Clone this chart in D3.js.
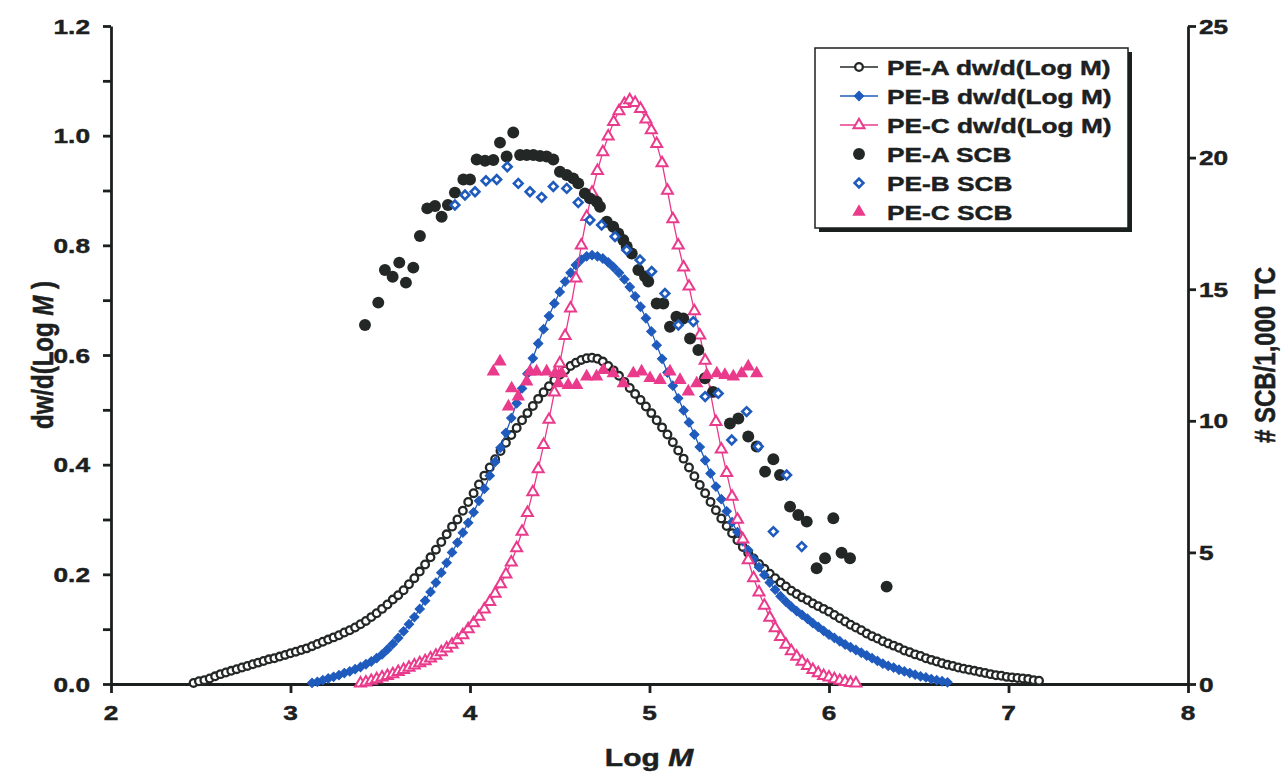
<!DOCTYPE html>
<html><head><meta charset="utf-8">
<script src="https://cdn.jsdelivr.net/npm/d3@7/dist/d3.min.js"></script>
<style>
body{margin:0;background:#fff}
text{font-family:"Liberation Sans",Arial,sans-serif;font-weight:bold;fill:#1c201f;stroke:#1c201f;stroke-width:0.45px}
</style>
</head><body><svg id="c" width="1285" height="776"></svg>
<script>
// ---------------- data ----------------
const peA_dw = [[2.46,0.002],[2.49,0.005],[2.52,0.007],[2.55,0.010],[2.58,0.014],[2.61,0.018],[2.64,0.021],[2.67,0.024],[2.70,0.027],[2.73,0.030],[2.76,0.033],[2.79,0.036],[2.82,0.039],[2.85,0.042],[2.88,0.045],[2.91,0.047],[2.94,0.050],[2.97,0.053],[3.00,0.056],[3.03,0.059],[3.06,0.062],[3.09,0.065],[3.12,0.069],[3.15,0.073],[3.18,0.077],[3.21,0.081],[3.24,0.085],[3.27,0.089],[3.30,0.094],[3.33,0.098],[3.36,0.103],[3.39,0.109],[3.42,0.115],[3.45,0.122],[3.48,0.129],[3.51,0.137],[3.54,0.145],[3.57,0.154],[3.60,0.162],[3.63,0.171],[3.66,0.182],[3.69,0.193],[3.72,0.205],[3.75,0.218],[3.78,0.231],[3.81,0.245],[3.84,0.259],[3.87,0.273],[3.90,0.287],[3.93,0.300],[3.96,0.316],[3.99,0.332],[4.02,0.348],[4.05,0.364],[4.08,0.380],[4.11,0.395],[4.14,0.410],[4.17,0.425],[4.20,0.440],[4.23,0.454],[4.26,0.467],[4.29,0.481],[4.32,0.494],[4.35,0.507],[4.38,0.520],[4.41,0.532],[4.44,0.543],[4.47,0.554],[4.50,0.564],[4.53,0.572],[4.56,0.580],[4.59,0.586],[4.62,0.591],[4.65,0.594],[4.68,0.595],[4.71,0.593],[4.74,0.588],[4.77,0.580],[4.80,0.572],[4.83,0.562],[4.86,0.551],[4.89,0.540],[4.92,0.529],[4.95,0.518],[4.98,0.506],[5.01,0.494],[5.04,0.481],[5.07,0.468],[5.10,0.455],[5.13,0.441],[5.16,0.426],[5.19,0.411],[5.22,0.395],[5.25,0.379],[5.28,0.363],[5.31,0.348],[5.34,0.332],[5.37,0.317],[5.40,0.302],[5.43,0.288],[5.46,0.275],[5.49,0.262],[5.52,0.250],[5.55,0.239],[5.58,0.229],[5.61,0.219],[5.64,0.210],[5.67,0.201],[5.70,0.193],[5.73,0.185],[5.76,0.178],[5.79,0.170],[5.82,0.164],[5.85,0.158],[5.88,0.153],[5.91,0.147],[5.94,0.142],[5.97,0.137],[6.00,0.132],[6.03,0.126],[6.06,0.120],[6.09,0.114],[6.12,0.108],[6.15,0.103],[6.18,0.098],[6.21,0.092],[6.24,0.087],[6.27,0.083],[6.30,0.078],[6.33,0.074],[6.36,0.070],[6.39,0.066],[6.42,0.061],[6.45,0.058],[6.48,0.054],[6.51,0.051],[6.54,0.047],[6.57,0.044],[6.60,0.041],[6.63,0.038],[6.66,0.035],[6.69,0.033],[6.72,0.030],[6.75,0.028],[6.78,0.026],[6.81,0.024],[6.84,0.022],[6.87,0.020],[6.90,0.018],[6.93,0.016],[6.96,0.015],[6.99,0.013],[7.02,0.012],[7.05,0.011],[7.08,0.010],[7.11,0.009],[7.14,0.007],[7.17,0.006]];

const peB_dw = [[3.12,0.002],[3.15,0.004],[3.18,0.007],[3.21,0.010],[3.24,0.013],[3.27,0.016],[3.30,0.020],[3.33,0.023],[3.36,0.027],[3.39,0.031],[3.42,0.036],[3.45,0.041],[3.48,0.047],[3.51,0.054],[3.54,0.063],[3.57,0.073],[3.60,0.084],[3.63,0.096],[3.66,0.109],[3.69,0.122],[3.72,0.137],[3.75,0.152],[3.78,0.168],[3.81,0.185],[3.84,0.203],[3.87,0.221],[3.90,0.240],[3.93,0.258],[3.96,0.276],[3.99,0.294],[4.02,0.313],[4.05,0.334],[4.08,0.356],[4.11,0.380],[4.14,0.405],[4.17,0.431],[4.20,0.458],[4.23,0.485],[4.26,0.512],[4.29,0.539],[4.32,0.566],[4.35,0.594],[4.38,0.621],[4.41,0.647],[4.44,0.671],[4.47,0.694],[4.50,0.715],[4.53,0.734],[4.56,0.750],[4.59,0.764],[4.62,0.774],[4.65,0.780],[4.68,0.782],[4.71,0.780],[4.74,0.776],[4.77,0.769],[4.80,0.760],[4.83,0.750],[4.86,0.738],[4.89,0.724],[4.92,0.707],[4.95,0.688],[4.98,0.667],[5.01,0.643],[5.04,0.618],[5.07,0.593],[5.10,0.568],[5.13,0.544],[5.16,0.521],[5.19,0.499],[5.22,0.477],[5.25,0.455],[5.28,0.432],[5.31,0.408],[5.34,0.384],[5.37,0.360],[5.40,0.337],[5.43,0.315],[5.46,0.295],[5.49,0.277],[5.52,0.260],[5.55,0.244],[5.58,0.228],[5.61,0.213],[5.64,0.199],[5.67,0.185],[5.70,0.172],[5.73,0.160],[5.76,0.150],[5.79,0.141],[5.82,0.133],[5.85,0.126],[5.88,0.119],[5.91,0.111],[5.94,0.104],[5.97,0.097],[6.00,0.090],[6.03,0.084],[6.06,0.078],[6.09,0.072],[6.12,0.067],[6.15,0.062],[6.18,0.057],[6.21,0.052],[6.24,0.047],[6.27,0.042],[6.30,0.037],[6.33,0.033],[6.36,0.030],[6.39,0.026],[6.42,0.023],[6.45,0.020],[6.48,0.017],[6.51,0.014],[6.54,0.012],[6.57,0.009],[6.60,0.007],[6.63,0.005],[6.66,0.003]];

const peC_dw = [[3.39,0.001],[3.42,0.003],[3.45,0.006],[3.48,0.009],[3.51,0.012],[3.54,0.015],[3.57,0.018],[3.60,0.022],[3.63,0.026],[3.66,0.030],[3.69,0.034],[3.72,0.038],[3.75,0.042],[3.78,0.047],[3.81,0.052],[3.84,0.058],[3.87,0.065],[3.90,0.072],[3.93,0.080],[3.96,0.089],[3.99,0.100],[4.02,0.111],[4.05,0.123],[4.08,0.136],[4.11,0.150],[4.14,0.165],[4.17,0.182],[4.20,0.200],[4.23,0.222],[4.26,0.248],[4.29,0.278],[4.32,0.312],[4.35,0.350],[4.38,0.392],[4.41,0.436],[4.44,0.482],[4.47,0.532],[4.50,0.585],[4.53,0.635],[4.56,0.685],[4.59,0.740],[4.62,0.800],[4.65,0.852],[4.68,0.896],[4.71,0.936],[4.74,0.970],[4.77,0.999],[4.80,1.025],[4.83,1.045],[4.86,1.058],[4.89,1.065],[4.92,1.060],[4.95,1.049],[4.98,1.030],[5.01,1.010],[5.04,0.985],[5.07,0.950],[5.10,0.900],[5.13,0.848],[5.16,0.800],[5.19,0.760],[5.22,0.725],[5.25,0.680],[5.28,0.636],[5.31,0.590],[5.34,0.530],[5.37,0.478],[5.40,0.428],[5.43,0.385],[5.46,0.342],[5.49,0.300],[5.52,0.264],[5.55,0.226],[5.58,0.193],[5.61,0.167],[5.64,0.143],[5.67,0.121],[5.70,0.102],[5.73,0.086],[5.76,0.072],[5.79,0.060],[5.82,0.050],[5.85,0.041],[5.88,0.033],[5.91,0.026],[5.94,0.020],[5.97,0.015],[6.00,0.012],[6.03,0.009],[6.06,0.006],[6.09,0.004],[6.12,0.002],[6.15,0.001]];

const peA_scb = [[3.415,13.64],[3.489,14.49],[3.526,15.73],[3.569,15.47],[3.606,16.01],[3.643,15.25],[3.684,15.82],[3.721,17.02],[3.762,18.07],[3.805,18.16],[3.842,17.75],[3.877,18.20],[3.916,18.67],[3.963,19.17],[4.000,19.17],[4.037,19.93],[4.084,19.88],[4.130,19.91],[4.167,20.57],[4.204,20.04],[4.241,20.95],[4.279,20.10],[4.316,20.10],[4.353,20.10],[4.390,20.06],[4.427,20.04],[4.464,19.93],[4.501,19.46],[4.539,19.34],[4.575,19.21],[4.603,19.02],[4.640,18.64],[4.668,18.45],[4.706,18.32],[4.724,18.13],[4.762,17.56],[4.798,17.37],[4.826,17.12],[4.854,16.87],[4.873,16.62],[4.901,16.36],[4.938,15.73],[4.975,15.48],[4.993,15.29],[5.040,14.46],[5.077,14.46],[5.114,13.57],[5.150,13.95],[5.188,13.89],[5.226,13.13],[5.272,12.69],[5.309,11.62],[5.354,11.10],[5.448,9.90],[5.495,10.09],[5.550,9.40],[5.597,9.02],[5.644,8.07],[5.690,8.54],[5.727,7.94],[5.783,6.74],[5.829,6.42],[5.876,6.17],[6.024,6.30],[5.931,4.40],[5.978,4.78],[6.070,4.99],[6.117,4.78],[6.321,3.70]];

const peB_scb = [[3.916,18.20],[3.972,18.58],[4.028,18.70],[4.089,19.12],[4.149,19.17],[4.208,19.65],[4.269,19.02],[4.334,18.70],[4.399,18.49],[4.464,18.90],[4.539,18.83],[4.603,18.29],[4.668,17.63],[4.733,17.44],[4.808,17.00],[4.873,16.49],[4.947,16.11],[5.012,15.67],[5.086,14.84],[5.161,13.64],[5.244,13.77],[5.310,10.92],[5.383,11.04],[5.458,9.27],[5.541,10.35],[5.606,9.02],[5.764,7.94],[5.690,5.79],[5.848,5.22]];

const peC_scb = [[4.130,11.87],[4.167,12.25],[4.214,10.54],[4.232,11.23],[4.269,10.92],[4.316,11.49],[4.334,11.87],[4.371,11.87],[4.427,11.87],[4.474,11.80],[4.492,11.42],[4.511,11.80],[4.547,11.36],[4.594,11.36],[4.650,11.68],[4.705,11.68],[4.743,11.93],[4.798,11.80],[4.854,11.42],[4.910,11.80],[4.956,11.87],[5.003,11.62],[5.059,11.55],[5.114,11.87],[5.170,11.55],[5.216,11.11],[5.263,11.42],[5.319,11.74],[5.375,11.80],[5.420,11.74],[5.467,11.68],[5.513,11.80],[5.550,12.06],[5.597,11.80]];

const xTicks = [2,3,4,5,6,7,8];
const yTicks = [0,0.2,0.4,0.6,0.8,1.0,1.2];
const yMinorTicks = [0.1,0.3,0.5,0.7,0.9,1.1];
const y2Ticks = [0,5,10,15,20,25];
const legendLabels = ["PE-A dw/d(Log M)","PE-B dw/d(Log M)","PE-C dw/d(Log M)","PE-A SCB","PE-B SCB","PE-C SCB"];

// ---------------- drawing ----------------
const BLACK = "#232826", BLUE = "#1f5bbd", PINK = "#ea3a8c", AXIS = "#1b201e";
const SX = 1.25; // horizontal stretch of the scanned lettering

const svg = d3.select("#c");
const x = d3.scaleLinear().domain([2,8]).range([111,1188]);
const y = d3.scaleLinear().domain([0,1.2]).range([684,26]);
const y2 = d3.scaleLinear().domain([0,25]).range([684,26]);

function stext(g, tx, ty, str, size, anchor){
  return g.append("text")
    .attr("transform", `translate(${tx},${ty}) scale(${SX},1)`)
    .attr("text-anchor", anchor || "start")
    .style("font-size", size + "px")
    .text(str);
}

// axes (lines & ticks)
function styleAxis(g){
  g.selectAll("path,line").attr("stroke", AXIS).attr("stroke-width", 2.8);
  g.selectAll("text").remove();
}
svg.append("g").attr("transform","translate(111,0)")
  .call(d3.axisLeft(y).tickValues(yTicks.concat(yMinorTicks)).tickSize(8).tickSizeOuter(0))
  .call(styleAxis);
svg.append("g").attr("transform","translate(1188,0)")
  .call(d3.axisRight(y2).tickValues(y2Ticks).tickSize(8).tickSizeOuter(0))
  .call(styleAxis);
svg.append("g").attr("transform","translate(0,684)")
  .call(d3.axisBottom(x).tickValues(xTicks).tickSize(9).tickSizeOuter(0))
  .call(styleAxis);

// tick labels
const lab = svg.append("g");
yTicks.forEach(v => stext(lab, 90, y(v) + 7.5, v.toFixed(1), 21, "end"));
y2Ticks.forEach(v => stext(lab, 1199, y2(v) + 7.5, String(v), 21, "start"));
xTicks.forEach(v => stext(lab, x(v), 719.5, String(v), 21, "middle"));

// axis titles
const xt = svg.append("text")
  .attr("transform", `translate(649,766) scale(${SX},1)`)
  .attr("text-anchor","middle").style("font-size","24px");
xt.append("tspan").text("Log ");
xt.append("tspan").style("font-style","italic").text("M");

const ylt = svg.append("text")
  .attr("transform", `translate(53,355) rotate(-90) scale(1,${SX})`)
  .attr("text-anchor","middle").style("font-size","24px");
ylt.append("tspan").text("dw/d(Log ");
ylt.append("tspan").style("font-style","italic").text("M");
ylt.append("tspan").text(" )");

svg.append("text")
  .attr("transform", `translate(1275,355) rotate(-90) scale(1,${SX})`)
  .attr("text-anchor","middle").style("font-size","24px")
  .text("# SCB/1,000 TC");

// symbols
const circ = (a) => d3.symbol().type(d3.symbolCircle).size(a)();
const tri = (a) => d3.symbol().type(d3.symbolTriangle).size(a)();
const sq = (a) => d3.symbol().type(d3.symbolSquare).size(a)();

const plot = svg.append("g");
const line = (ys) => d3.line().x(d => x(d[0])).y(d => ys(d[1]));

// PE-A dw
plot.append("path").datum(peA_dw).attr("d", line(y)).attr("fill","none").attr("stroke",BLACK).attr("stroke-width",1.3);
plot.append("g").selectAll("path").data(peA_dw).join("path")
  .attr("d", circ(46)).attr("transform", d => `translate(${x(d[0])},${y(d[1])})`)
  .attr("fill","#fff").attr("stroke",BLACK).attr("stroke-width",2.3);

// PE-B dw
plot.append("path").datum(peB_dw).attr("d", line(y)).attr("fill","none").attr("stroke",BLUE).attr("stroke-width",1.3);
plot.append("g").selectAll("path").data(peB_dw).join("path")
  .attr("d", sq(44)).attr("transform", d => `translate(${x(d[0])},${y(d[1])}) rotate(45)`)
  .attr("fill",BLUE).attr("stroke",BLUE).attr("stroke-width",1);

// PE-C dw
plot.append("path").datum(peC_dw).attr("d", line(y)).attr("fill","none").attr("stroke",PINK).attr("stroke-width",1.3);
plot.append("g").selectAll("path").data(peC_dw).join("path")
  .attr("d", tri(52)).attr("transform", d => `translate(${x(d[0])},${y(d[1])})`)
  .attr("fill","#fff").attr("stroke",PINK).attr("stroke-width",2);

// PE-A SCB
plot.append("g").selectAll("path").data(peA_scb).join("path")
  .attr("d", circ(112)).attr("transform", d => `translate(${x(d[0])},${y2(d[1])})`)
  .attr("fill",BLACK);

// PE-B SCB
plot.append("g").selectAll("path").data(peB_scb).join("path")
  .attr("d", sq(38)).attr("transform", d => `translate(${x(d[0])},${y2(d[1])}) rotate(45)`)
  .attr("fill","#fff").attr("stroke",BLUE).attr("stroke-width",2.6);

// PE-C SCB
plot.append("g").selectAll("path").data(peC_scb).join("path")
  .attr("d", tri(78)).attr("transform", d => `translate(${x(d[0])},${y2(d[1])})`)
  .attr("fill",PINK);

// legend
const lg = svg.append("g");
lg.append("rect").attr("x",819).attr("y",52).attr("width",313).attr("height",180).attr("fill",AXIS);
lg.append("rect").attr("x",815).attr("y",48).attr("width",313).attr("height",180).attr("fill","#fff").attr("stroke",AXIS).attr("stroke-width",1.5);
const rowY = (i) => 67 + i*29;
const legendStyles = [
  {line:BLACK, d:circ(46), fill:"#fff", stroke:BLACK, sw:2.3, rot:0},
  {line:BLUE, d:sq(44), fill:BLUE, stroke:BLUE, sw:1, rot:45},
  {line:PINK, d:tri(52), fill:"#fff", stroke:PINK, sw:2, rot:0},
  {line:null, d:circ(112), fill:BLACK, stroke:"none", sw:0, rot:0},
  {line:null, d:sq(38), fill:"#fff", stroke:BLUE, sw:2.6, rot:45},
  {line:null, d:tri(78), fill:PINK, stroke:"none", sw:0, rot:0}
];
legendLabels.forEach((t,i) => {
  const s = legendStyles[i], cy = rowY(i);
  if (s.line) lg.append("line").attr("x1",840).attr("x2",878).attr("y1",cy).attr("y2",cy).attr("stroke",s.line).attr("stroke-width",1.3);
  lg.append("path").attr("d", s.d).attr("transform",`translate(859,${cy}) rotate(${s.rot})`)
    .attr("fill",s.fill).attr("stroke",s.stroke).attr("stroke-width",s.sw);
  stext(lg, 887, cy + 7.5, t, 21, "start");
});
</script></body></html>
